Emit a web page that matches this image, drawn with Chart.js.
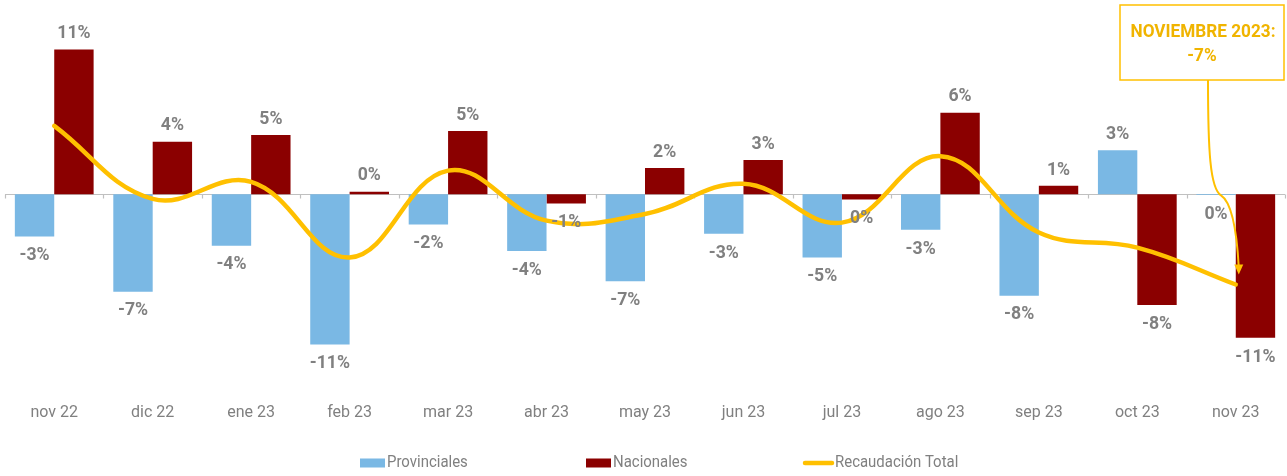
<!DOCTYPE html>
<html><head><meta charset="utf-8">
<script src="https://cdn.jsdelivr.net/npm/chart.js@4.4.1/dist/chart.umd.min.js"></script>
<style>html,body{margin:0;padding:0;background:#fff;overflow:hidden}</style>
</head><body>
<canvas id="c" width="1287" height="476"></canvas>
<script>
const categories = ['nov 22','dic 22','ene 23','feb 23','mar 23','abr 23','may 23','jun 23','jul 23','ago 23','sep 23','oct 23','nov 23'];
const provinciales = [-3.2, -7.4, -3.9, -11.4, -2.3, -4.3, -6.6, -3.0, -4.8, -2.7, -7.7, 3.35, -0.05];
const nacionales = [11.0, 4.0, 4.5, 0.2, 4.8, -0.7, 2.0, 2.6, -0.4, 6.2, 0.65, -8.4, -10.9];
const recaudacionTotal = [5.2, -0.35, 0.95, -4.8, 1.8, -2.0, -1.5, 0.8, -2.15, 2.9, -2.9, -4.05, -6.85];
const seriesNames = ['Provinciales', 'Nacionales', 'Recaudación Total'];
const annotationLines = ['NOVIEMBRE 2023:', '-7%'];

const FONT = "Roboto,'Liberation Sans',sans-serif";
const GRAY = '#808080';
const C_PROV = '#7AB8E4';
const C_NAC = '#8B0000';
const C_TOT = '#FFC000';

function narrowText(ctx, txt, x, y, sx) {
  ctx.save();
  ctx.translate(x, y);
  ctx.scale(sx, 1);
  ctx.fillText(txt, 0, 0);
  ctx.restore();
}

const zeroLine = {
  id: 'zeroLine',
  beforeDatasetsDraw(chart) {
    const {ctx, chartArea: a, scales: {x, y}} = chart;
    const y0 = Math.round(y.getPixelForValue(0)) + 0.5;
    ctx.save();
    ctx.strokeStyle = '#C0C0C0';
    ctx.lineWidth = 1.2;
    ctx.beginPath();
    ctx.moveTo(a.left, y0); ctx.lineTo(a.right, y0);
    const n = categories.length;
    const w = (a.right - a.left) / n;
    for (let i = 0; i <= n; i++) {
      const xx = Math.round(a.left + i * w) + 0.5;
      ctx.moveTo(xx, y0); ctx.lineTo(xx, y0 + 4);
    }
    ctx.stroke();
    ctx.restore();
  }
};

const barLabels = {
  id: 'barLabels',
  afterDatasetsDraw(chart) {
    const {ctx} = chart;
    ctx.save();
    ctx.font = 'bold 19px ' + FONT;
    ctx.fillStyle = GRAY;
    ctx.textAlign = 'center';
    ctx.textBaseline = 'middle';
    chart.data.datasets.forEach((ds, di) => {
      if (ds.type === 'line') return;
      const meta = chart.getDatasetMeta(di);
      meta.data.forEach((el, i) => {
        const v = ds.data[i];
        const r = Math.round(v);
        const txt = String(r === 0 ? 0 : r) + '%';
        const yy = v >= 0 ? el.y - 16 : el.y + 19;
        narrowText(ctx, txt, el.x, yy, 0.93);
      });
    });
    ctx.restore();
  }
};

const customLegend = {
  id: 'customLegend',
  afterDraw(chart) {
    const {ctx} = chart;
    const yc = 463;
    const starts = [360, 586, 803];
    ctx.save();
    ctx.font = '17px ' + FONT;
    ctx.textBaseline = 'middle';
    ctx.textAlign = 'left';
    ctx.fillStyle = C_PROV; ctx.fillRect(starts[0], yc - 4.5, 25, 9);
    ctx.fillStyle = C_NAC; ctx.fillRect(starts[1], yc - 4.5, 25, 9);
    ctx.strokeStyle = C_TOT; ctx.lineWidth = 4.5; ctx.lineCap = 'round';
    ctx.beginPath(); ctx.moveTo(starts[2] + 2, yc); ctx.lineTo(starts[2] + 29, yc); ctx.stroke();
    ctx.fillStyle = GRAY;
    narrowText(ctx, seriesNames[0], starts[0] + 27, yc, 0.88);
    narrowText(ctx, seriesNames[1], starts[1] + 27, yc, 0.88);
    narrowText(ctx, seriesNames[2], starts[2] + 32, yc, 0.88);
    ctx.restore();
  }
};

const annotation = {
  id: 'annotation',
  afterDraw(chart) {
    const {ctx, scales: {x, y}} = chart;
    const last = categories.length - 1;
    const px = x.getPixelForValue(last);
    const py = y.getPixelForValue(recaudacionTotal[last]);
    const y0 = y.getPixelForValue(0);
    const bx = 1120, by = 5, bw = 164, bh = 75;
    ctx.save();
    const tipX = px + 3, tipY = py - 11;
    ctx.strokeStyle = C_TOT; ctx.lineWidth = 2;
    ctx.beginPath();
    ctx.moveTo(1208, by + bh);
    ctx.bezierCurveTo(1208, 150, 1210, y0 - 6, 1221, y0 + 1);
    ctx.bezierCurveTo(1232, y0 + 8, 1237, y0 + 40, tipX, tipY - 6);
    ctx.stroke();
    ctx.fillStyle = C_TOT;
    ctx.beginPath();
    ctx.moveTo(tipX, tipY + 1);
    ctx.lineTo(tipX - 4.5, tipY - 9);
    ctx.lineTo(tipX + 4.5, tipY - 9);
    ctx.closePath(); ctx.fill();
    ctx.fillStyle = '#fff';
    ctx.fillRect(bx, by, bw, bh);
    ctx.lineWidth = 1.5;
    ctx.strokeRect(bx, by, bw, bh);
    ctx.fillStyle = '#F0B400';
    ctx.font = 'bold 18px ' + FONT;
    ctx.textAlign = 'center'; ctx.textBaseline = 'middle';
    const w1 = ctx.measureText(annotationLines[0]).width;
    const sx = Math.min(1, 145 / w1);
    narrowText(ctx, annotationLines[0], bx + bw / 2 + 1, 32, sx);
    narrowText(ctx, annotationLines[1], bx + bw / 2, 56, sx);
    ctx.restore();
  }
};

new Chart(document.getElementById('c'), {
  data: {
    labels: categories,
    datasets: [
      {type: 'line', label: seriesNames[2], data: recaudacionTotal, borderColor: C_TOT, backgroundColor: C_TOT,
       borderWidth: 4.5, tension: 0.4, pointRadius: 0, borderCapStyle: 'round', order: 0},
      {type: 'bar', label: seriesNames[0], data: provinciales, backgroundColor: C_PROV, order: 1,
       barPercentage: 1.0, categoryPercentage: 0.8},
      {type: 'bar', label: seriesNames[1], data: nacionales, backgroundColor: C_NAC, order: 1,
       barPercentage: 1.0, categoryPercentage: 0.8}
    ]
  },
  options: {
    responsive: false,
    animation: false,
    devicePixelRatio: 1,
    layout: {padding: {left: 5, right: 2, top: 10, bottom: 41}},
    plugins: {legend: {display: false}, tooltip: {enabled: false}},
    scales: {
      x: {
        grid: {display: false, drawTicks: false},
        border: {display: false},
        ticks: {color: GRAY, font: {family: FONT, size: 16}, padding: 12, maxRotation: 0}
      },
      y: {display: false, min: -15, max: 14}
    }
  },
  plugins: [zeroLine, barLabels, customLegend, annotation]
});
</script>
</body></html>
